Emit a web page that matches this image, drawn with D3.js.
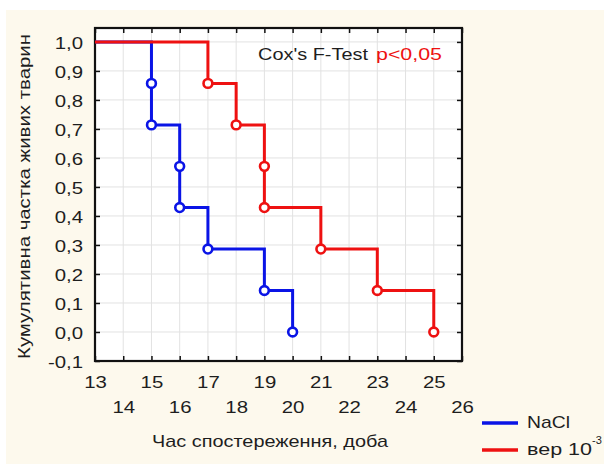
<!DOCTYPE html>
<html><head><meta charset="utf-8">
<script src="https://cdn.jsdelivr.net/npm/d3@7"></script>
<style>body{margin:0;background:#fff}svg{display:block}text{font-family:Arial,"Liberation Sans",sans-serif}</style>
</head><body><svg id="c" width="604" height="464"></svg>
<script>
const seriesNames = ["NaCl", "вер 10"];
const colors = ["#0a14e6", "#ee1111"];
// step function: times and survival after each event
const naclTimes = [13, 15, 15, 16, 16, 17, 19, 20];
const naclSurv  = [1.0, 0.857, 0.714, 0.571, 0.429, 0.286, 0.143, 0.0];
const verTimes  = [13, 17, 18, 19, 19, 21, 23, 25];
const verSurv   = [1.0, 0.857, 0.714, 0.571, 0.429, 0.286, 0.143, 0.0];
const xTicks = [13,14,15,16,17,18,19,20,21,22,23,24,25,26];
const yTicks = [-0.1,0,0.1,0.2,0.3,0.4,0.5,0.6,0.7,0.8,0.9,1.0];

const SX = 1.2; // horizontal text stretch of the original
const svg = d3.select("#c");
svg.append("rect").attr("x",6).attr("y",10).attr("width",598).attr("height",454).attr("fill","#fdf9ed");

const L=95, R=462, T=28, B=361;
const x = d3.scaleLinear().domain([13,26]).range([L,R]);
const y = d3.scaleLinear().domain([-0.1,1.048]).range([B,T]);

svg.append("rect").attr("x",L).attr("y",T).attr("width",R-L).attr("height",B-T).attr("fill","#fff");
// grid
const g = svg.append("g").attr("stroke","#e2e2e2").attr("stroke-width",1);
xTicks.forEach(t=>{ if(t>13&&t<26) g.append("line").attr("x1",x(t)).attr("x2",x(t)).attr("y1",T).attr("y2",B);});
yTicks.forEach(t=>{ if(t>-0.1) g.append("line").attr("x1",L).attr("x2",R).attr("y1",y(t)).attr("y2",y(t));});

// axes with inward ticks
const fmt = d=>d3.format(".1f")(d).replace(".",",").replace("−","-");
const ay = svg.append("g").attr("transform",`translate(${L},0)`).call(d3.axisLeft(y).tickValues(yTicks).tickSize(-5).tickFormat(fmt));
const ay2 = svg.append("g").attr("transform",`translate(${R},0)`).call(d3.axisRight(y).tickValues(yTicks).tickSize(-5).tickFormat(""));
const ax = svg.append("g").attr("transform",`translate(0,${B})`).call(d3.axisBottom(x).tickValues(xTicks).tickSize(-5).tickFormat(d=>d));
const ax2 = svg.append("g").attr("transform",`translate(0,${T})`).call(d3.axisTop(x).tickValues(xTicks).tickSize(-5).tickFormat(""));
[ay,ay2,ax,ax2].forEach(a=>{a.select(".domain").remove();a.selectAll(".tick line").attr("stroke","#111").attr("stroke-width",1.5);});
ay.selectAll("text").attr("font-size",17).attr("fill","#1e1e1e").attr("x",-12/SX).attr("dy","0.36em").attr("transform",`scale(${SX},1)`);
ax.selectAll("text").attr("font-size",17).attr("fill","#1e1e1e").attr("transform",`scale(${SX},1)`).attr("dy",null)
  .attr("y",d=>d%2===0?52:27);
svg.append("rect").attr("x",L).attr("y",T).attr("width",R-L).attr("height",B-T).attr("fill","none").attr("stroke","#111").attr("stroke-width",2.2);

function drawSeries(times, surv, col){
  let pts=[];
  for(let i=0;i<times.length;i++){
    if(i>0) pts.push([times[i], surv[i-1]]);
    pts.push([times[i], surv[i]]);
  }
  const line = d3.line().x(d=>x(d[0])).y(d=>y(d[1]));
  svg.append("path").attr("d",line(pts)).attr("fill","none").attr("stroke",col).attr("stroke-width",3);
  for(let i=1;i<times.length;i++){
    svg.append("circle").attr("cx",x(times[i])).attr("cy",y(surv[i])).attr("r",4.4).attr("fill","#fff").attr("stroke",col).attr("stroke-width",2.6);
  }
}
drawSeries(naclTimes,naclSurv,colors[0]);
drawSeries(verTimes,verSurv,colors[1]);

// annotation
svg.append("text").attr("x",258).attr("y",60).attr("font-size",17).attr("fill","#1e1e1e")
  .attr("textLength",110).attr("lengthAdjust","spacingAndGlyphs").text("Cox's F-Test");
svg.append("text").attr("x",376).attr("y",60).attr("font-size",17).attr("fill","#ee1111")
  .attr("textLength",66).attr("lengthAdjust","spacingAndGlyphs").text("p<0,05");

// titles
svg.append("text").attr("transform","translate(30,196.5) rotate(-90)").attr("text-anchor","middle").attr("font-size",17).attr("fill","#1e1e1e")
  .attr("textLength",325).attr("lengthAdjust","spacingAndGlyphs").text("Кумулятивна частка живих тварин");
svg.append("text").attr("x",270).attr("y",447).attr("text-anchor","middle").attr("font-size",17).attr("fill","#1e1e1e")
  .attr("textLength",236).attr("lengthAdjust","spacingAndGlyphs").text("Час спостереження, доба");

// legend
const legY = [423, 450], legBase=[428,455], legLen=[43,65];
[0,1].forEach(i=>{
  svg.append("line").attr("x1",482).attr("x2",518).attr("y1",legY[i]).attr("y2",legY[i]).attr("stroke",colors[i]).attr("stroke-width",3.5);
  svg.append("text").attr("x",527).attr("y",legBase[i]).attr("font-size",17).attr("fill","#1e1e1e")
    .attr("textLength",legLen[i]).attr("lengthAdjust","spacingAndGlyphs").text(seriesNames[i]);
});
svg.append("text").attr("x",592).attr("y",444).attr("font-size",11).attr("fill","#1e1e1e").text("-3");
</script></body></html>
